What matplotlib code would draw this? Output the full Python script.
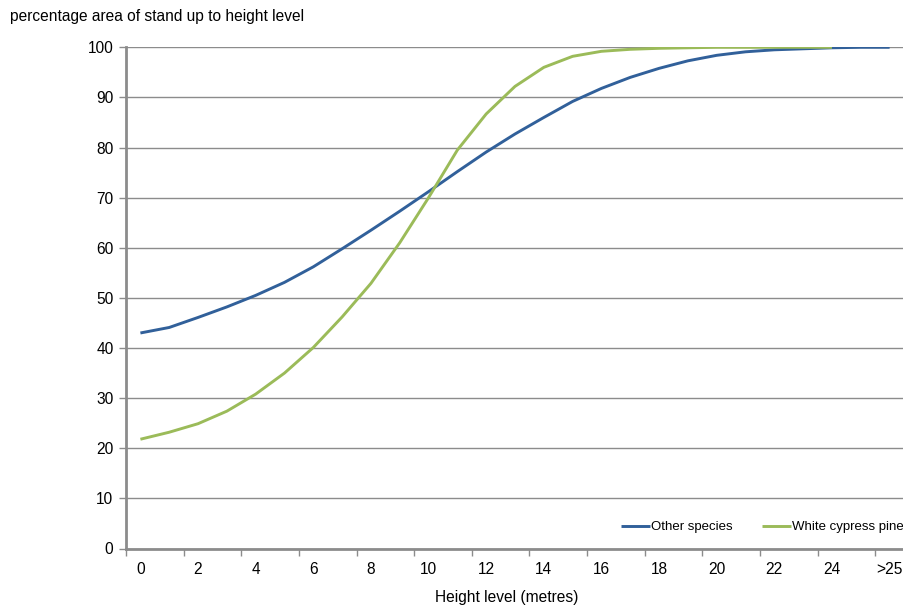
import matplotlib
matplotlib.use("Agg")
from matplotlib import pyplot as plt
import numpy as np

plt.rcParams['font.family'] = ['Liberation Sans', 'DejaVu Sans']

# height level categories (0..25, >25)
heights = [str(h) for h in range(26)] + ['>25']

other_species = [43.0, 44.1, 46.1, 48.2, 50.5, 53.1, 56.2, 59.8, 63.5, 67.3,
                 71.2, 75.2, 79.1, 82.7, 86.0, 89.2, 91.8, 94.0, 95.8, 97.3,
                 98.4, 99.1, 99.5, 99.7, 99.9, 100.0, 100.0]
white_cypress = [21.8, 23.2, 24.9, 27.4, 30.8, 35.0, 40.1, 46.2, 52.9, 61.0,
                 70.0, 79.5, 86.7, 92.2, 96.0, 98.2, 99.2, 99.6, 99.8, 99.9,
                 100.0, 100.0, 100.0, 100.0, 100.0]

grid_col = '#8c8c8c'
fs = 11.2

fig = plt.figure(figsize=(9.04, 6.06), dpi=100)
ax = fig.add_axes([126 / 904, 57.5 / 606, 778 / 904, 501.2 / 606])

x_other = np.arange(len(other_species))
x_white = np.arange(len(white_cypress))
ax.plot(x_other, other_species, color='#31609a', lw=2.1, label='Other species',
        solid_capstyle='butt')
ax.plot(x_white, white_cypress, color='#9bbb59', lw=2.1, label='White cypress pine',
        solid_capstyle='butt')

ax.set_xlim(-0.5, 26.5)
ax.set_ylim(0, 100)
ax.set_yticks(np.arange(0, 101, 10))
ax.yaxis.grid(True, color=grid_col, lw=1.0)
ax.set_axisbelow(True)

# labels at every second category, ticks between categories
ax.set_xticks(np.arange(0, 27, 2))
ax.set_xticklabels([heights[i] for i in range(0, 27, 2)])
ax.set_xticks(np.arange(-0.5, 26.5, 2), minor=True)
ax.tick_params(axis='x', which='major', length=0, pad=10, labelsize=fs)
ax.tick_params(axis='x', which='minor', length=5, color=grid_col, width=1)
ax.tick_params(axis='y', length=5, color=grid_col, width=1, pad=4, labelsize=fs)

for s in ['top', 'right']:
    ax.spines[s].set_visible(False)
for s in ['left', 'bottom']:
    ax.spines[s].set_color(grid_col)
    ax.spines[s].set_linewidth(2.0)

ax.set_xlabel('Height level (metres)', fontsize=fs)
ax.xaxis.set_label_coords(381 / 778, -0.082)
fig.text(10 / 904, 1 - 17 / 606, 'percentage area of stand up to height level',
         fontsize=fs, va='center', ha='left')

ax.legend(loc='lower right', ncol=2, frameon=False, fontsize=9.5,
          handlelength=2.2, handletextpad=0.1, columnspacing=2.2,
          bbox_to_anchor=(1.007, 0.02), borderaxespad=0)

fig.savefig('out.png', dpi=100)
